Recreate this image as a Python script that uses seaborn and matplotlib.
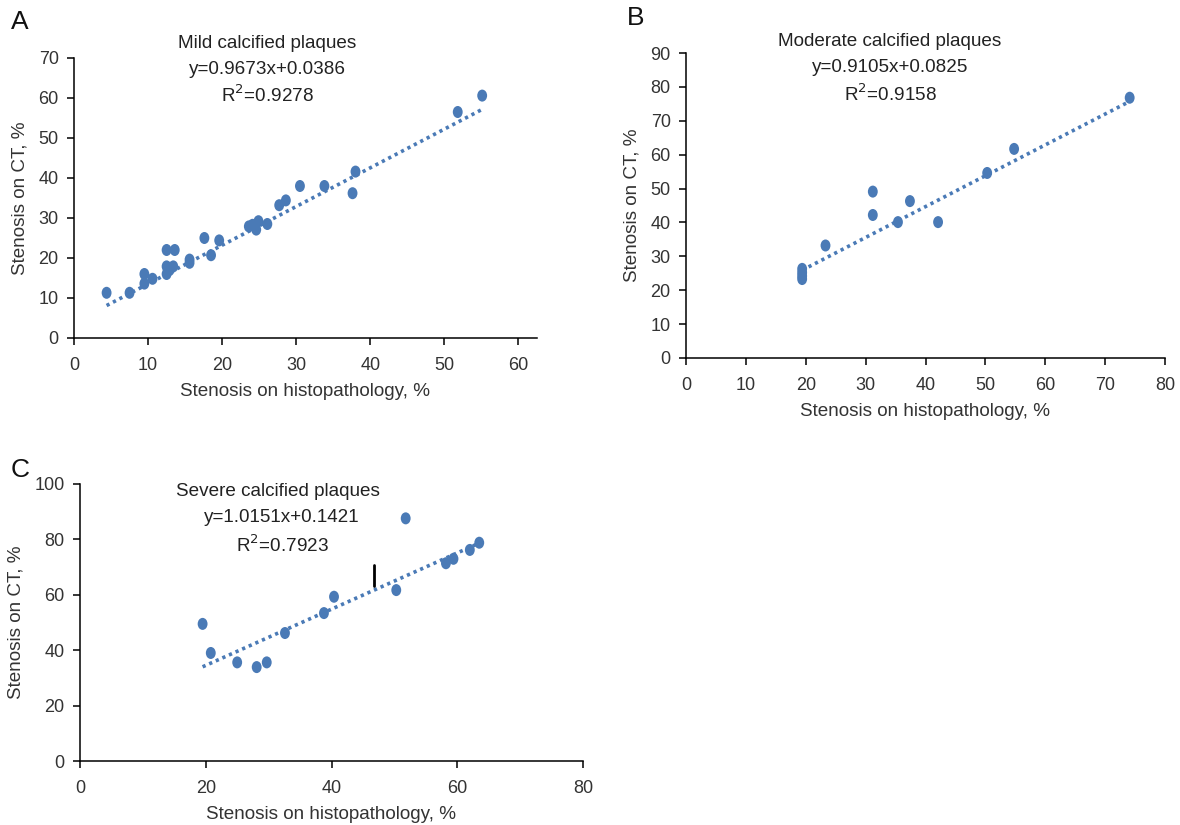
import numpy as np
import pandas as pd
import matplotlib
matplotlib.use("Agg")
import matplotlib.pyplot as plt
import seaborn as sns
from matplotlib.path import Path
from matplotlib.transforms import Affine2D

sns.set_theme(style="ticks")
plt.rcParams['font.family'] = ['Liberation Sans', 'DejaVu Sans']

# ---------------- data ----------------
mild_x = [4.4, 7.5, 9.5, 9.5, 10.6, 12.5, 13.6, 12.5, 12.5, 13.4, 12.9, 15.6, 15.6,
          17.6, 18.5, 19.6, 23.6, 24.1, 24.6, 24.9, 26.1, 27.7, 28.6, 30.5, 33.8,
          37.6, 38.0, 51.8, 55.1]
mild_y = [11.3, 11.3, 16.0, 13.6, 14.8, 22.0, 22.0, 17.9, 16.0, 17.9, 17.0, 19.6, 18.8,
          25.0, 20.7, 24.4, 27.9, 28.3, 27.1, 29.2, 28.5, 33.2, 34.4, 38.0, 38.0,
          36.2, 41.6, 56.5, 60.6]

mod_x = [19.4, 19.4, 19.4, 19.4, 23.3, 31.2, 31.2, 35.4, 37.4, 42.1, 50.3, 54.8, 74.1]
mod_y = [26.3, 25.2, 24.2, 23.3, 33.2, 49.1, 42.2, 40.1, 46.3, 40.1, 54.6, 61.7, 76.8]

sev_x = [19.5, 20.8, 25.0, 28.1, 29.7, 32.6, 38.8, 40.4, 50.3, 51.8, 58.2, 59.4, 62.0, 63.5]
sev_y = [49.5, 39.0, 35.6, 33.9, 35.6, 46.2, 53.4, 59.3, 61.7, 87.6, 71.4, 73.0, 76.2, 78.8]

titles = ["Mild calcified plaques", "Moderate calcified plaques", "Severe calcified plaques"]
equations = ["y=0.9673x+0.0386", "y=0.9105x+0.0825", "y=1.0151x+0.1421"]
r2_labels = [r"R$^{2}$=0.9278", r"R$^{2}$=0.9158", r"R$^{2}$=0.7923"]
slopes = [0.9673, 0.9105, 1.0151]
intercepts = [3.86, 8.25, 14.21]   # in % units
panel_letters = ["A", "B", "C"]
xticks = [[0, 10, 20, 30, 40, 50, 60], [0, 10, 20, 30, 40, 50, 60, 70, 80], [0, 20, 40, 60, 80]]
yticks = [[0, 10, 20, 30, 40, 50, 60, 70], [0, 10, 20, 30, 40, 50, 60, 70, 80, 90],
          [0, 20, 40, 60, 80, 100]]
xlims = [(0, 62.5), (0, 80), (0, 80)]
ylims = [(0, 70), (0, 90), (0, 100)]
xlabel = "Stenosis on histopathology, %"
ylabel = "Stenosis on CT, %"

# stray vertical mark in panel C
mark_x = 46.7
mark_y = (63.2, 70.8)

# ---------------- figure ----------------
W, H = 1180, 825
fig = plt.figure(figsize=(W / 100, H / 100), dpi=100)

def px_axes(l, t, r, b):
    return fig.add_axes([l / W, 1 - b / H, (r - l) / W, (b - t) / H])

axes = [px_axes(74, 58, 537, 338), px_axes(686, 53, 1165, 358), px_axes(80, 484, 583, 761)]

blue = "#4A7AB6"
ell = Path.unit_circle().transformed(Affine2D().scale(0.82, 1.0))

datasets = [(mild_x, mild_y), (mod_x, mod_y), (sev_x, sev_y)]
for i, (ax, (xs, ys)) in enumerate(zip(axes, datasets)):
    df = pd.DataFrame({"x": xs, "y": ys})
    sns.scatterplot(data=df, x="x", y="y", ax=ax, marker=ell, s=75, color=blue,
                    edgecolor="none", zorder=3)
    xl = np.array([min(xs), max(xs)])
    line_df = pd.DataFrame({"x": xl, "y": slopes[i] * xl + intercepts[i]})
    sns.lineplot(data=line_df, x="x", y="y", ax=ax, color=blue, linestyle=(0, (0.9, 1.1)),
                 linewidth=2.6, zorder=2)
    ax.set_xlim(*xlims[i])
    ax.set_ylim(*ylims[i])
    ax.set_xticks(xticks[i])
    ax.set_yticks(yticks[i])
    ax.set_xlabel(xlabel, fontsize=13.6, color="#333333", labelpad=7)
    ax.set_ylabel(ylabel, fontsize=13.6, color="#333333", labelpad=7)
    ax.tick_params(direction="out", length=5, width=1.1, labelsize=13, colors="black",
                   labelcolor="#333333", pad=6)
    ax.tick_params(axis="x", pad=8.5)
    for s in ["left", "bottom"]:
        ax.spines[s].set_linewidth(1.1)
        ax.spines[s].set_color("black")
    sns.despine(ax=ax)
    ax.set_facecolor("white")

axes[2].plot([mark_x, mark_x], list(mark_y), color="black", linewidth=2, zorder=4)

# annotation texts (pixel positions)
text_pos = [(267, 43, 69, 95), (890, 42, 68, 94), (278, 492, 518, 545)]
eq_x = [267, 890, 282]
r2_x = [267, 890, 282]
for i, (cx, ty, ey, ry) in enumerate(text_pos):
    fig.text(cx / W, 1 - ty / H, titles[i], ha="center", va="center", fontsize=13.6,
             color="#222222")
    fig.text(eq_x[i] / W, 1 - ey / H, equations[i], ha="center", va="center",
             fontsize=13.6, color="#222222")
    fig.text(r2_x[i] / W, 1 - ry / H, r2_labels[i], ha="center", va="center",
             fontsize=13.6, color="#222222")

letter_pos = [(20, 22), (636, 18), (20, 470)]
for L, (lx, ly) in zip(panel_letters, letter_pos):
    fig.text(lx / W, 1 - ly / H, L, ha="center", va="center", fontsize=19, color="#111111")

fig.savefig("out.png", dpi=100, facecolor="white")
